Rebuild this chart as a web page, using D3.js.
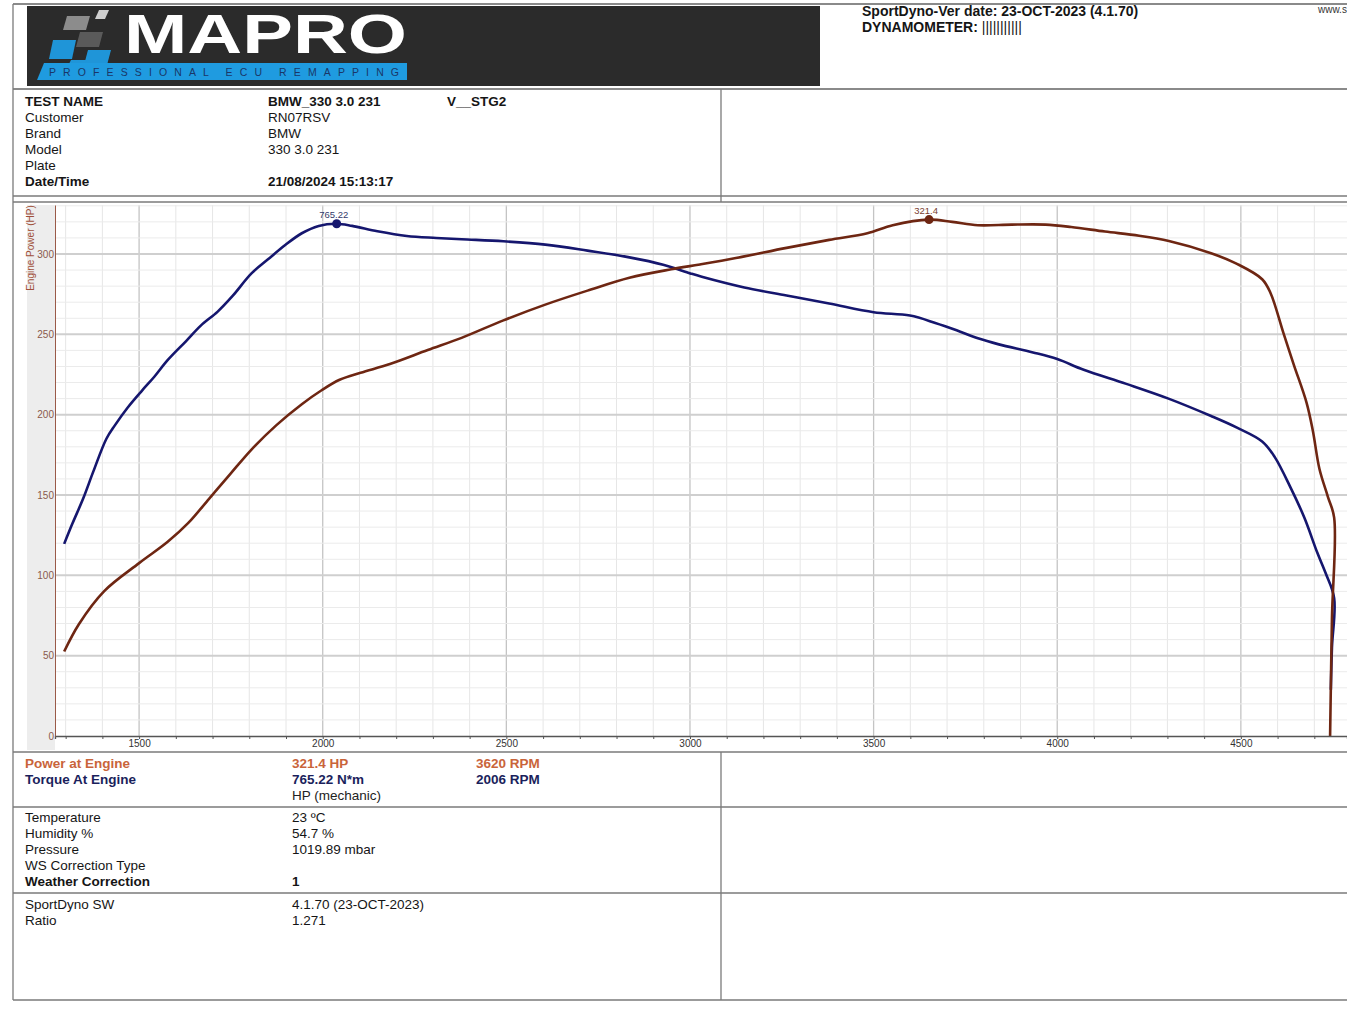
<!DOCTYPE html>
<html>
<head>
<meta charset="utf-8">
<script src="https://cdn.jsdelivr.net/npm/d3@7"></script>
<style>
  body { margin: 0; background: #fff; }
  svg { display: block; font-family: "Liberation Sans", Arial, sans-serif; }
</style>
</head>
<body>
<div id="sheet"></div>
<script>
// --- curve data ---
const powerRpm = [1296, 1336, 1405, 1500, 1577, 1634, 1691, 1748, 1806, 1874,
  1943, 1997, 2046, 2103, 2183, 2286, 2378, 2492, 2606, 2721,
  2835, 2949, 3027, 3125, 3263, 3379, 3483, 3552, 3651, 3714,
  3784, 3876, 3968, 4038, 4130, 4223, 4304, 4419, 4488, 4558,
  4581, 4616, 4644, 4679, 4696, 4714, 4737, 4754, 4748, 4743];
const powerHp = [52.6, 69.6, 90.2, 107.6, 120.7, 132.6, 147.8, 163.0, 178.3, 193.5,
  206.5, 215.2, 221.7, 226.1, 231.5, 240.2, 247.8, 258.7, 268.5, 277.2,
  285.2, 290.5, 293.5, 297.5, 303.8, 308.8, 312.9, 317.9, 321.4, 320.0,
  317.9, 318.3, 318.3, 316.8, 314.0, 311.4, 308.1, 300.5, 294.0, 284.3,
  275.6, 250.7, 231.2, 207.4, 190.0, 166.2, 148.9, 135.9, 73, 0];

const torqueRpm = [1296, 1319, 1348, 1376, 1411, 1434, 1468, 1508, 1542, 1577,
  1628, 1668, 1714, 1754, 1806, 1851, 1897, 1943, 1989, 2038,
  2080, 2149, 2229, 2309, 2378, 2492, 2606, 2721, 2835, 2927,
  3001, 3032, 3148, 3263, 3379, 3500, 3599, 3668, 3726, 3784,
  3841, 3934, 4000, 4072, 4188, 4303, 4419, 4488, 4558, 4592,
  4638, 4673, 4708, 4731, 4754, 4748, 4745];
const torqueNm = [287, 318, 355, 396, 444, 464, 490, 516, 537, 561,
  590, 613, 634, 657, 691, 712, 733, 751, 762, 765.22,
  762, 754, 747, 744, 742, 739, 734, 725, 715, 704,
  691, 686, 670, 658, 646, 633, 628, 617, 606, 594,
  585, 573, 563, 547, 526, 504, 478, 461, 440, 417,
  368, 326, 274, 243, 206, 132, 69];

const powerPeak = { rpm: 3651, value: 321.4, label: "321.4" };
const torquePeak = { rpm: 2038, value: 765.22, label: "765.22" };

const rpmDomain = [1271, 4789];
const hpDomain = [0, 330.5];
const nmDomain = [0, 793.2];
const hpTicks = [0, 50, 100, 150, 200, 250, 300];
const rpmTicks = [1500, 2000, 2500, 3000, 3500, 4000, 4500];

// --- table texts ---
const infoLabels = ["TEST NAME", "Customer", "Brand", "Model", "Plate", "Date/Time"];
const infoValues = ["BMW_330 3.0 231", "RN07RSV", "BMW", "330 3.0 231", "", "21/08/2024 15:13:17"];
const infoBold = [true, false, false, false, false, true];

const resultLabels = ["Power at Engine", "Torque At Engine", ""];
const resultValues = ["321.4 HP", "765.22 N*m", "HP (mechanic)"];
const resultRpm = ["3620 RPM", "2006 RPM", ""];

const weatherLabels = ["Temperature", "Humidity %", "Pressure", "WS Correction Type", "Weather Correction"];
const weatherValues = ["23 ºC", "54.7 %", "1019.89 mbar", "", "1"];

const swLabels = ["SportDyno SW", "Ratio"];
const swValues = ["4.1.70 (23-OCT-2023)", "1.271"];

const powerColor = "#6e2612";
const torqueColor = "#15166e";
const powerText = "#c9643a";
const torqueText = "#1b1f5c";
const ruleColor = "#7a7a7a";

const W = 1347, H = 1009;

const svg = d3.select("#sheet").append("svg")
  .attr("width", W)
  .attr("height", H)
  .attr("viewBox", `0 0 ${W} ${H}`);

function hline(y, x1, x2, w = 1.3, c = ruleColor) {
  svg.append("line").attr("x1", x1).attr("x2", x2).attr("y1", y).attr("y2", y)
    .attr("stroke", c).attr("stroke-width", w);
}
function vline(x, y1, y2, w = 1.3, c = ruleColor) {
  svg.append("line").attr("x1", x).attr("x2", x).attr("y1", y1).attr("y2", y2)
    .attr("stroke", c).attr("stroke-width", w);
}
function txt(x, y, s, opts = {}) {
  return svg.append("text")
    .attr("x", x).attr("y", y)
    .attr("font-size", opts.size || 13.5)
    .attr("font-weight", opts.bold ? "bold" : "normal")
    .attr("fill", opts.color || "#151515")
    .attr("text-anchor", opts.anchor || "start")
    .text(s);
}

// --- header with logo ---
function drawHeader() {
  hline(4, 13, W, 2, "#8a8a8a");
  svg.append("rect").attr("x", 27).attr("y", 6).attr("width", 793).attr("height", 80)
    .attr("fill", "#2b2b2b");

  const squares = [
    [96, 10, 10, 9, "#cfcfcf"], [64, 16, 23, 14, "#8c8c8c"], [77, 32, 23, 15, "#5a5a5a"],
    [50, 40, 23, 19, "#1f95d8"], [85, 50, 23, 15, "#1f95d8"], [68, 60, 16, 8, "#1f95d8"]
  ];
  const logo = svg.append("g");
  squares.forEach(([x, y, w, h, c]) => {
    logo.append("path")
      .attr("d", `M${x + 3},${y} L${x + w + 3},${y} L${x + w - 1},${y + h} L${x - 1},${y + h} Z`)
      .attr("fill", c);
  });
  logo.append("text").attr("x", 124).attr("y", 53)
    .attr("font-size", 56).attr("font-weight", "bold").attr("fill", "#fff")
    .attr("textLength", 283).attr("lengthAdjust", "spacingAndGlyphs")
    .text("MAPRO");
  logo.append("path").attr("d", "M44,63 L407,63 L407,80 L37,80 Z").attr("fill", "#1f9be0");
  logo.append("text").attr("x", 49).attr("y", 76)
    .attr("font-size", 10.5).attr("fill", "#1a3768")
    .attr("textLength", 350).attr("lengthAdjust", "spacing")
    .text("PROFESSIONAL ECU REMAPPING");

  txt(862, 16, "SportDyno-Ver date: 23-OCT-2023 (4.1.70)", { size: 14, bold: true });
  const dyn = txt(862, 32, "DYNAMOMETER: ", { size: 14, bold: true });
  dyn.append("tspan").attr("font-weight", "normal").text("|||||||||||");
  txt(1318, 13, "www.s", { size: 10, color: "#333" });
}

function drawInfo() {
  hline(89, 13, W, 2, "#8a8a8a");
  infoLabels.forEach((l, i) => {
    const y = 106 + i * 16;
    txt(25, y, l, { bold: infoBold[i] });
    txt(268, y, infoValues[i], { bold: infoBold[i] });
  });
  txt(447, 106, "V__STG2", { bold: true });
  vline(721, 89, 202);
  hline(196, 13, W, 1.6);
}

// --- dyno chart ---
class DynoChart {
  constructor(opts) {
    this.top = opts.top;
    this.bottom = opts.bottom;
    this.left = opts.left;
    this.right = opts.right;
    this.axisY = opts.axisY;
    this.power = powerRpm.map((r, i) => ({ rpm: r, v: powerHp[i] }));
    this.torque = torqueRpm.map((r, i) => ({ rpm: r, v: torqueNm[i] }));
    this.draw();
  }

  draw() {
    hline(202, 13, W, 1.6);
    svg.append("rect").attr("x", 27).attr("y", this.top).attr("width", this.left - 27)
      .attr("height", this.bottom - this.top - 2).attr("fill", "#ededed");
    this.plot = svg.append("g");
    this.createScales();
    this.addGrid();
    this.addLines();
    this.addAxes();
    this.addPeaks();
    hline(this.bottom, 13, W, 1.6);
  }

  createScales() {
    this.xScale = d3.scaleLinear().domain(rpmDomain).range([this.left, this.right]);
    this.yScale = d3.scaleLinear().domain(hpDomain).range([this.axisY, this.top]);
    this.tScale = d3.scaleLinear().domain(nmDomain).range([this.axisY, this.top]);
  }

  addGrid() {
    const g = this.plot.append("g");
    const vMinor = d3.range(1300, 4800, 100);
    g.selectAll(".vg").data(vMinor).enter().append("line")
      .attr("x1", d => this.xScale(d)).attr("x2", d => this.xScale(d))
      .attr("y1", this.top).attr("y2", this.axisY)
      .attr("stroke", d => d % 500 === 0 ? "#c4c4c4" : "#e6e6e6")
      .attr("stroke-width", d => d % 500 === 0 ? 1.3 : 1);
    const hMinor = d3.range(10, 331, 10);
    g.selectAll(".hg").data(hMinor).enter().append("line")
      .attr("x1", this.left).attr("x2", this.right)
      .attr("y1", d => this.yScale(d)).attr("y2", d => this.yScale(d))
      .attr("stroke", d => d % 50 === 0 ? "#cfcfcf" : "#ebebeb")
      .attr("stroke-width", d => d % 50 === 0 ? 2 : 1);
  }

  addLines() {
    svg.append("clipPath").attr("id", "plotClip").append("rect")
      .attr("x", this.left).attr("y", this.top - 2)
      .attr("width", this.right - this.left).attr("height", this.axisY - this.top + 2);

    const line = scale => d3.line()
      .curve(d3.curveCatmullRom.alpha(0.5))
      .x(d => this.xScale(d.rpm))
      .y(d => scale(d.v));

    const lines = this.plot.append("g").attr("clip-path", "url(#plotClip)");
    lines.append("path").datum(this.torque)
      .attr("fill", "none").attr("stroke", torqueColor).attr("stroke-width", 2.6)
      .attr("d", line(this.tScale));
    lines.append("path").datum(this.power)
      .attr("fill", "none").attr("stroke", powerColor).attr("stroke-width", 2.6)
      .attr("d", line(this.yScale));
  }

  addAxes() {
    const xAxis = d3.axisBottom(this.xScale)
      .tickValues(d3.range(1300, 4800, 100))
      .tickSize(3)
      .tickFormat(d => rpmTicks.includes(d) ? d : "");
    const xg = this.plot.append("g")
      .attr("transform", `translate(0,${this.axisY})`)
      .call(xAxis);
    xg.select(".domain").attr("stroke", "#555").attr("stroke-width", 1.3);
    xg.selectAll(".tick line").attr("stroke", "#555");
    xg.selectAll(".tick text").attr("font-size", 10).attr("fill", "#333")
      .attr("font-family", "Liberation Sans, Arial, sans-serif").attr("dy", "0.45em");

    const yAxis = d3.axisLeft(this.yScale).tickValues(hpTicks).tickSize(0).tickPadding(1);
    const yg = this.plot.append("g")
      .attr("transform", `translate(${this.left},0)`)
      .call(yAxis);
    yg.select(".domain").attr("stroke", "#9a5a48").attr("stroke-width", 1);
    yg.selectAll(".tick text").attr("font-size", 10).attr("fill", "#8a5a4c")
      .attr("font-family", "Liberation Sans, Arial, sans-serif");

    svg.append("text")
      .attr("transform", `translate(34,${this.top + 43}) rotate(-90)`)
      .attr("text-anchor", "middle")
      .attr("font-size", 10).attr("fill", "#a0503a")
      .text("Engine Power (HP)");
  }

  addPeaks() {
    const peaks = [
      { p: torquePeak, s: this.tScale, c: torqueColor, t: "#333a6a" },
      { p: powerPeak, s: this.yScale, c: powerColor, t: "#7a4030" }
    ];
    peaks.forEach(({ p, s, c, t }) => {
      const cx = this.xScale(p.rpm), cy = s(p.value);
      this.plot.append("circle").attr("cx", cx).attr("cy", cy).attr("r", 4.5).attr("fill", c);
      this.plot.append("text").attr("x", cx - 3).attr("y", cy - 6)
        .attr("text-anchor", "middle").attr("font-size", 9.5).attr("fill", t)
        .text(p.label);
    });
  }
}

function drawResults() {
  const colors = [powerText, torqueText, "#222"];
  resultLabels.forEach((l, i) => {
    const y = 768 + i * 16;
    const bold = i < 2;
    txt(25, y, l, { bold, color: colors[i] });
    txt(292, y, resultValues[i], { bold, color: colors[i] });
    txt(476, y, resultRpm[i], { bold, color: colors[i] });
  });
  hline(807, 13, W, 1.6);
  weatherLabels.forEach((l, i) => {
    const y = 822 + i * 16;
    const bold = i === 4;
    txt(25, y, l, { bold });
    txt(292, y, weatherValues[i], { bold });
  });
  hline(893, 13, W, 1.6);
  swLabels.forEach((l, i) => {
    const y = 909 + i * 16;
    txt(25, y, l);
    txt(292, y, swValues[i]);
  });
  hline(1000, 13, W, 1.6);
  vline(721, 752, 1000);
  vline(13, 4, 1000);
}

drawHeader();
drawInfo();
new DynoChart({ top: 205, bottom: 752, left: 55, right: W, axisY: 736 });
drawResults();
</script>
</body>
</html>
